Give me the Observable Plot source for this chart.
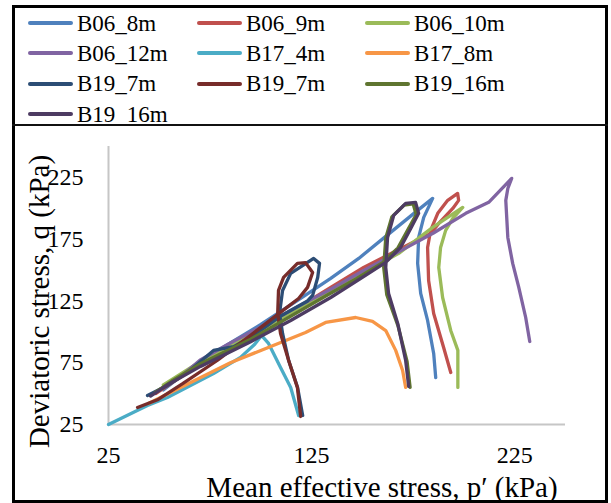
<!DOCTYPE html>
<html>
<head>
<meta charset="utf-8">
<script src="https://cdn.jsdelivr.net/npm/d3@7"></script>
<script src="https://cdn.jsdelivr.net/npm/@observablehq/plot@0.6"></script>
<style>
  html, body { margin: 0; padding: 0; background: #fff; }
  #wrap { position: relative; width: 611px; height: 503px; overflow: hidden; font-family: 'Liberation Serif', 'Times New Roman', serif; }
  #legend { position: absolute; left: 28px; top: 8px; display: grid; grid-template-columns: 169px 168px 168px; grid-auto-rows: 30.3px; }
  .item { display: flex; align-items: center; height: 30.3px; font-family: 'Liberation Serif', serif; font-size: 23px; line-height: 1; color: #000; white-space: nowrap; }
  .sw { display: inline-block; width: 45px; height: 4px; border-radius: 2px; margin-right: 4px; }
  #chart { position: absolute; left: 0; top: 126px; }
  #frame { position: absolute; left: 12px; top: 5px; width: 596px; height: 498px; border: 3px solid #000; box-sizing: border-box; pointer-events: none; }
  #divider { position: absolute; left: 12px; top: 124px; width: 596px; height: 2px; background: #111; }
</style>
</head>
<body>
<div id="wrap">
  <div id="legend"></div>
  <div id="chart"></div>
  <div id="frame"></div>
  <div id="divider"></div>
</div>
<script>
// Series names (legend order) and colours
const names = ["B06_8m", "B06_9m", "B06_10m", "B06_12m", "B17_4m", "B17_8m", "B19_7m", "B19_7m", "B19_16m", "B19_16m"];
const colors = ["#4F81BD", "#C0504D", "#9BBB59", "#8064A2", "#4BACC6", "#F79646", "#2C4D75", "#772C2A", "#5F7530", "#4D3B62"];

// Tick values
const xTicks = [25, 125, 225];
const yTicks = [25, 75, 125, 175, 225];

// Stress paths [p', q] (kPa)
const b06_8m = [[186.1,63],[185.1,82.5],[182.1,109.2],[178.7,131.1],[177.2,155.4],[177.7,176.4],[180.2,192.6],[184.6,208],[177.2,198.3],[163.9,180.5],[148.2,159.4],[134.4,143.2],[119.6,127],[100,106],[85,91],[70,76],[52,53]];
const b06_9m = [[193.5,67.1],[190,87.3],[185.1,114.9],[182.6,141.6],[182.1,168.3],[183.6,182.1],[187.1,195.9],[192,206.4],[196.9,212],[197.4,206.4],[194.5,199.9],[187.6,187.8],[183.6,179.7],[173.8,171.6],[150.6,152.1],[134.4,136],[114.7,116],[95,97],[70.3,74],[48.2,50]];
const b06_10m = [[197,55],[197,85],[193.5,101.1],[189.5,127.8],[187.6,152.1],[188.5,168.3],[191,182.1],[194.5,191.8],[199.4,200.7],[184.6,184.5],[167.9,163.5],[148.2,145.6],[119.6,120],[95,97],[70.3,76],[52,57]];
const b06_12m = [[232.4,92.2],[230.4,111.6],[227,136],[224,155.4],[221.6,176.4],[220.6,206.4],[221.6,216],[223.5,224.2],[212.2,204.8],[200.9,195.9],[185,180],[166.4,163.5],[150,149],[134.4,134.5],[120,122],[100,104],[85,91],[70,77],[61.5,65]];
const b17_4m = [[25,25],[44.2,40.4],[54,46.9],[76.7,66.3],[90,79.3],[97,90],[100.4,97],[103.8,90.6],[109.7,71.2],[114.7,55],[118.6,32.3]];
const b17_8m = [[44.7,42],[50.6,46.9],[85,75],[122,99.5],[131.9,107.6],[146.7,111.6],[155,108.4],[161.5,101],[166.4,85],[169.8,68.7],[171.3,55]];
const b19_7m_a = [[120.6,32.3],[118.1,55],[113.7,76.8],[110.7,98.7],[109.2,114.9],[110.7,133.5],[114.7,147.3],[123,156.2],[126,159.4],[128.9,155.4],[128,144],[125.5,129.5],[123,125],[110,113],[96.4,97],[86.6,88],[76.7,84.9],[63.9,67.1],[54,56.6],[44.2,48.5]];
const b19_7m_b = [[119.6,31.5],[118,55],[113.7,76.8],[109.7,98.7],[108.3,115],[108.7,133.5],[111.2,144],[118,155.4],[122,156],[125.5,148],[123,136],[118.6,127],[112.2,119],[96.4,99],[78.7,77],[61.5,58],[49.1,45],[39.3,38.8]];
const b19_16m_a = [[173.5,55],[172,76],[167.5,105],[162,130],[160.5,152],[161.5,176],[164.5,193],[170.5,202.5],[175,203.5],[176.5,195],[172.5,183],[167.5,168],[160,156],[147,143],[133,130],[114,112],[95,94],[70,74],[56,60],[48,51]];
const b19_16m_b = [[172.8,55.8],[171.3,76.8],[167.4,106.8],[162.9,131.1],[161.5,152.1],[162.4,176.4],[165.4,194.2],[171.3,204],[176.2,204.8],[177.7,195.9],[173.8,183.7],[168.8,168.3],[161.5,156.2],[147.7,141.6],[134.4,127.8],[114.7,109.2],[95,92],[70.3,72],[55,58],[45.7,48]];

const series = [b06_8m, b06_9m, b06_10m, b06_12m, b17_4m, b17_8m, b19_7m_a, b19_7m_b, b19_16m_a, b19_16m_b];

// Legend (HTML, 3 columns)
const legend = document.getElementById("legend");
names.forEach((n, i) => {
  const it = document.createElement("div");
  it.className = "item";
  const sw = document.createElement("span");
  sw.className = "sw";
  sw.style.background = colors[i];
  it.appendChild(sw);
  const tx = document.createElement("span");
  tx.textContent = n;
  it.appendChild(tx);
  legend.appendChild(it);
});

const font = "'Liberation Serif', 'Times New Roman', serif";

const chart = Plot.plot({
  width: 611,
  height: 377,
  marginLeft: 108,
  marginRight: 46,
  marginTop: 20,
  marginBottom: 79,
  style: { fontFamily: font, fontSize: "24px", color: "#000", background: "transparent", overflow: "visible" },
  x: { domain: [25, 250] },
  y: { domain: [25, 250] },
  marks: [
    Plot.ruleX([25], { stroke: "#c6c6c6", strokeWidth: 2 }),
    Plot.ruleY([25], { stroke: "#c6c6c6", strokeWidth: 2 }),
    ...series.map((s, i) => Plot.line(s, {
      x: d => d[0], y: d => d[1],
      stroke: colors[i], strokeWidth: 3.3,
      strokeLinejoin: "round", strokeLinecap: "round"
    })),
    Plot.axisX(xTicks, { tickSize: 0, tickPadding: 21, label: null, fill: "#000" }),
    Plot.axisY(yTicks, { tickSize: 0, tickPadding: 25, label: null, fill: "#000" }),
    Plot.text(["Mean effective stress, p\u2032 (kPa)"], { frameAnchor: "bottom", textAnchor: "middle", lineAnchor: "middle", dx: 45, dy: 63, fontSize: 29, fill: "#000", fontFamily: font }),
    Plot.text(["Deviatoric stress, q (kPa)"], { frameAnchor: "left", textAnchor: "middle", lineAnchor: "middle", rotate: -90, dx: -69, dy: 16, fontSize: 29, fill: "#000", fontFamily: font })
  ]
});
document.getElementById("chart").appendChild(chart);
</script>
</body>
</html>
